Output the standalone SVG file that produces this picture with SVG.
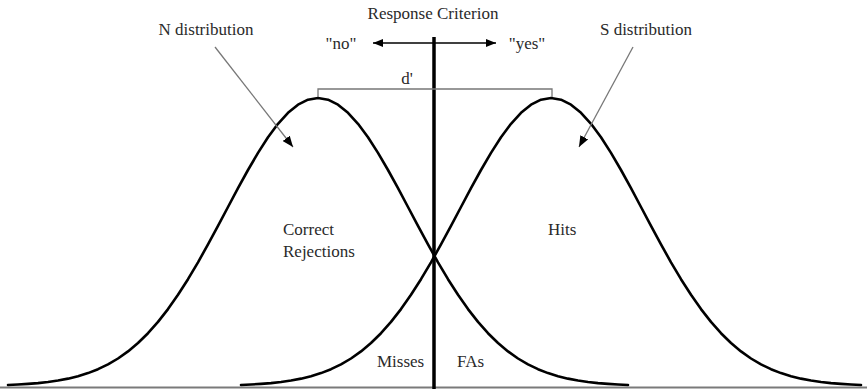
<svg xmlns="http://www.w3.org/2000/svg" width="867" height="389" viewBox="0 0 867 389">
<style>
text{font-family:"Liberation Serif","Times New Roman",serif;font-size:17px;fill:#2a2a2a}
.curve{fill:none;stroke:#000;stroke-width:2.6;stroke-linejoin:round;stroke-linecap:round}
.thin{fill:none;stroke:#777;stroke-width:1.3}
</style>
<defs>
<marker id="ah" viewBox="0 0 10 8" refX="10" refY="4" markerWidth="10" markerHeight="8" markerUnits="userSpaceOnUse" orient="auto-start-reverse">
<path d="M0,0 L10,4 L0,8 Z" fill="#000"/>
</marker>
<marker id="ah2" viewBox="0 0 10 8" refX="10" refY="4" markerWidth="11" markerHeight="9" markerUnits="userSpaceOnUse" orient="auto">
<path d="M0,0 L10,4 L0,8 Z" fill="#000"/>
</marker>
<polyline id="gauss" class="curve" points="8,385 18,384.5 28,383.9 38,383.1 48,382 58,380.55 68,378.65 78,376.2 88,373.1 98,369.2 108,364.4 118,358.5 128,351.4 138,343 148,333.2 158,321.9 168,309.1 178,294.8 188,279.2 198,262.3 208,244.4 218,225.9 228,207 238,188.2 248,170 258,152.9 268,137.3 278,123.8 288,112.8 298,104.7 308,99.7 318,98 328,99.7 338,104.7 348,112.8 358,123.8 368,137.3 378,152.9 388,170 398,188.2 408,207 418,225.9 428,244.4 438,262.3 448,279.2 458,294.8 468,309.1 478,321.9 488,333.2 498,343 508,351.4 518,358.5 528,364.4 538,369.2 548,373.1 558,376.2 568,378.65 578,380.55 588,382 598,383.1 608,383.9 618,384.5 628,385"/>
</defs>
<rect width="867" height="389" fill="#fff"/>
<g id="axis"><line x1="0" y1="387.5" x2="867" y2="387.5" stroke="#7a7a7a" stroke-width="2"/></g>
<g id="n-distribution-curve"><use href="#gauss"/></g>
<g id="s-distribution-curve"><use href="#gauss" transform="translate(233,0)"/></g>
<g id="criterion">
<line x1="434" y1="37" x2="434" y2="389" stroke="#000" stroke-width="3.5"/>
<text x="433" y="19" text-anchor="middle">Response Criterion</text>
</g>
<g id="connectors">
<line x1="434" y1="43" x2="373" y2="43" stroke="#000" stroke-width="1.5" marker-end="url(#ah)"/>
<line x1="434" y1="43" x2="496" y2="43" stroke="#000" stroke-width="1.5" marker-end="url(#ah)"/>
<line class="thin" x1="215" y1="47" x2="293" y2="147" marker-end="url(#ah2)"/>
<line class="thin" x1="633" y1="47" x2="579" y2="147" marker-end="url(#ah2)"/>
<path class="thin" d="M318,97 V89 H552 V97"/>
</g>
<g id="no-label"><text x="341" y="49" text-anchor="middle">"no"</text></g>
<g id="yes-label"><text x="527" y="49" text-anchor="middle">"yes"</text></g>
<g id="dprime-label"><text x="407" y="84" text-anchor="middle">d'</text></g>
<g id="n-label"><text x="206" y="35" text-anchor="middle">N distribution</text></g>
<g id="s-label"><text x="646" y="35" text-anchor="middle">S distribution</text></g>
<g id="correct-rejections"><text x="283" y="235">Correct</text><text x="283" y="257">Rejections</text></g>
<g id="hits"><text x="548" y="235">Hits</text></g>
<g id="misses"><text x="377" y="367">Misses</text></g>
<g id="fas"><text x="457" y="367">FAs</text></g>
</svg>
